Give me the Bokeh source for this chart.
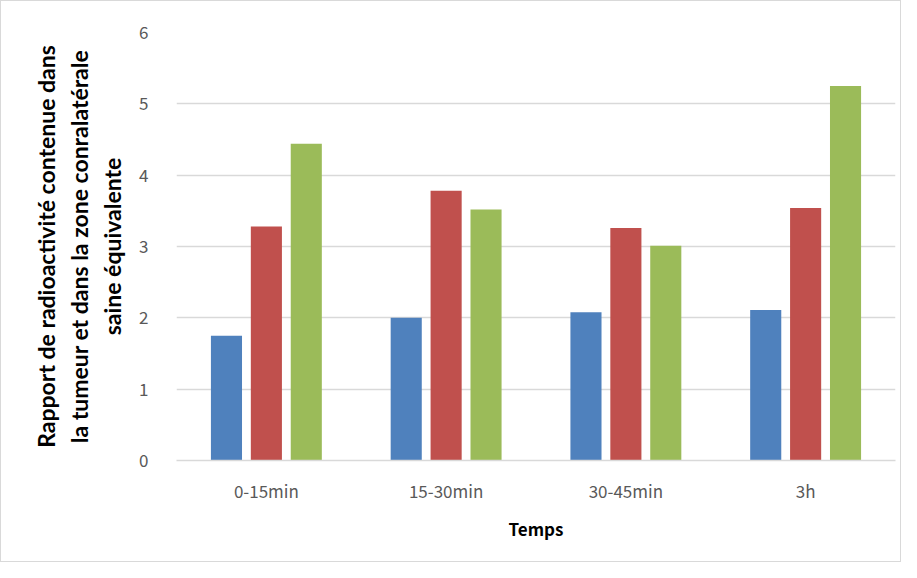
from bokeh.plotting import figure
from bokeh.models import ColumnDataSource, FactorRange, Range1d, FixedTicker
from bokeh.transform import dodge
from bokeh.embed import file_html
from bokeh.resources import INLINE

categories = ["0-15min", "15-30min", "30-45min", "3h"]
serie1 = [1.75, 2.00, 2.08, 2.11]
serie2 = [3.28, 3.78, 3.26, 3.54]
serie3 = [4.44, 3.52, 3.01, 5.25]
y_ticks = [0, 1, 2, 3, 4, 5, 6]

colors = ["#4F81BD", "#C0504D", "#9BBB59"]
FONT = "Lato"
TICKFONT = "Noto Sans CJK SC"

src = ColumnDataSource(dict(cat=categories, s1=serie1, s2=serie2, s3=serie3))

p = figure(
    x_range=FactorRange(*categories, range_padding=0),
    y_range=Range1d(0, 6),
    width=901, height=562,
    output_backend="svg", toolbar_location=None,
    min_border_left=175, min_border_right=7, min_border_top=31, min_border_bottom=103,
)
p.styles = {"border": "1px solid #d9d9d9"}

bw = 0.173
step = 0.222
for i, (col, c) in enumerate(zip(["s1", "s2", "s3"], colors)):
    p.vbar(x=dodge("cat", (i - 1) * step, range=p.x_range), top=col, width=bw,
           source=src, fill_color=c, line_color=None)

p.outline_line_color = None
p.xgrid.grid_line_color = None
p.ygrid.grid_line_color = "#d9d9d9"
p.ygrid.grid_line_width = 1.5
p.yaxis.ticker = FixedTicker(ticks=y_ticks)

p.yaxis.axis_line_color = None
p.yaxis.major_tick_line_color = None
p.yaxis.minor_tick_line_color = None
p.yaxis.major_label_text_font = TICKFONT
p.yaxis.major_label_text_font_size = "17px"
p.yaxis.major_label_text_color = "#595959"
p.yaxis.major_label_standoff = 22
p.yaxis.axis_label = "Rapport de radioactivité contenue dans\nla tumeur et dans la zone conralatérale\nsaine équivalente"
p.yaxis.axis_label_text_font = FONT
p.yaxis.axis_label_text_font_style = "bold"
p.yaxis.axis_label_text_font_size = "23px"
p.yaxis.axis_label_text_color = "black"
p.yaxis.axis_label_standoff = 10
p.yaxis.axis_label_text_line_height = 1.18

p.xaxis.axis_line_color = "#d9d9d9"
p.xaxis.axis_line_width = 1.5
p.xaxis.major_tick_line_color = None
p.xaxis.minor_tick_line_color = None
p.xaxis.major_label_text_font = TICKFONT
p.xaxis.major_label_text_font_size = "17px"
p.xaxis.major_label_text_color = "#595959"
p.xaxis.major_label_standoff = 11
p.xaxis.axis_label = "Temps"
p.xaxis.axis_label_text_font = TICKFONT
p.xaxis.axis_label_text_font_style = "bold"
p.xaxis.axis_label_text_font_size = "17px"
p.xaxis.axis_label_text_color = "black"
p.xaxis.axis_label_standoff = 10

open("out.html", "w").write(file_html(p, INLINE))
